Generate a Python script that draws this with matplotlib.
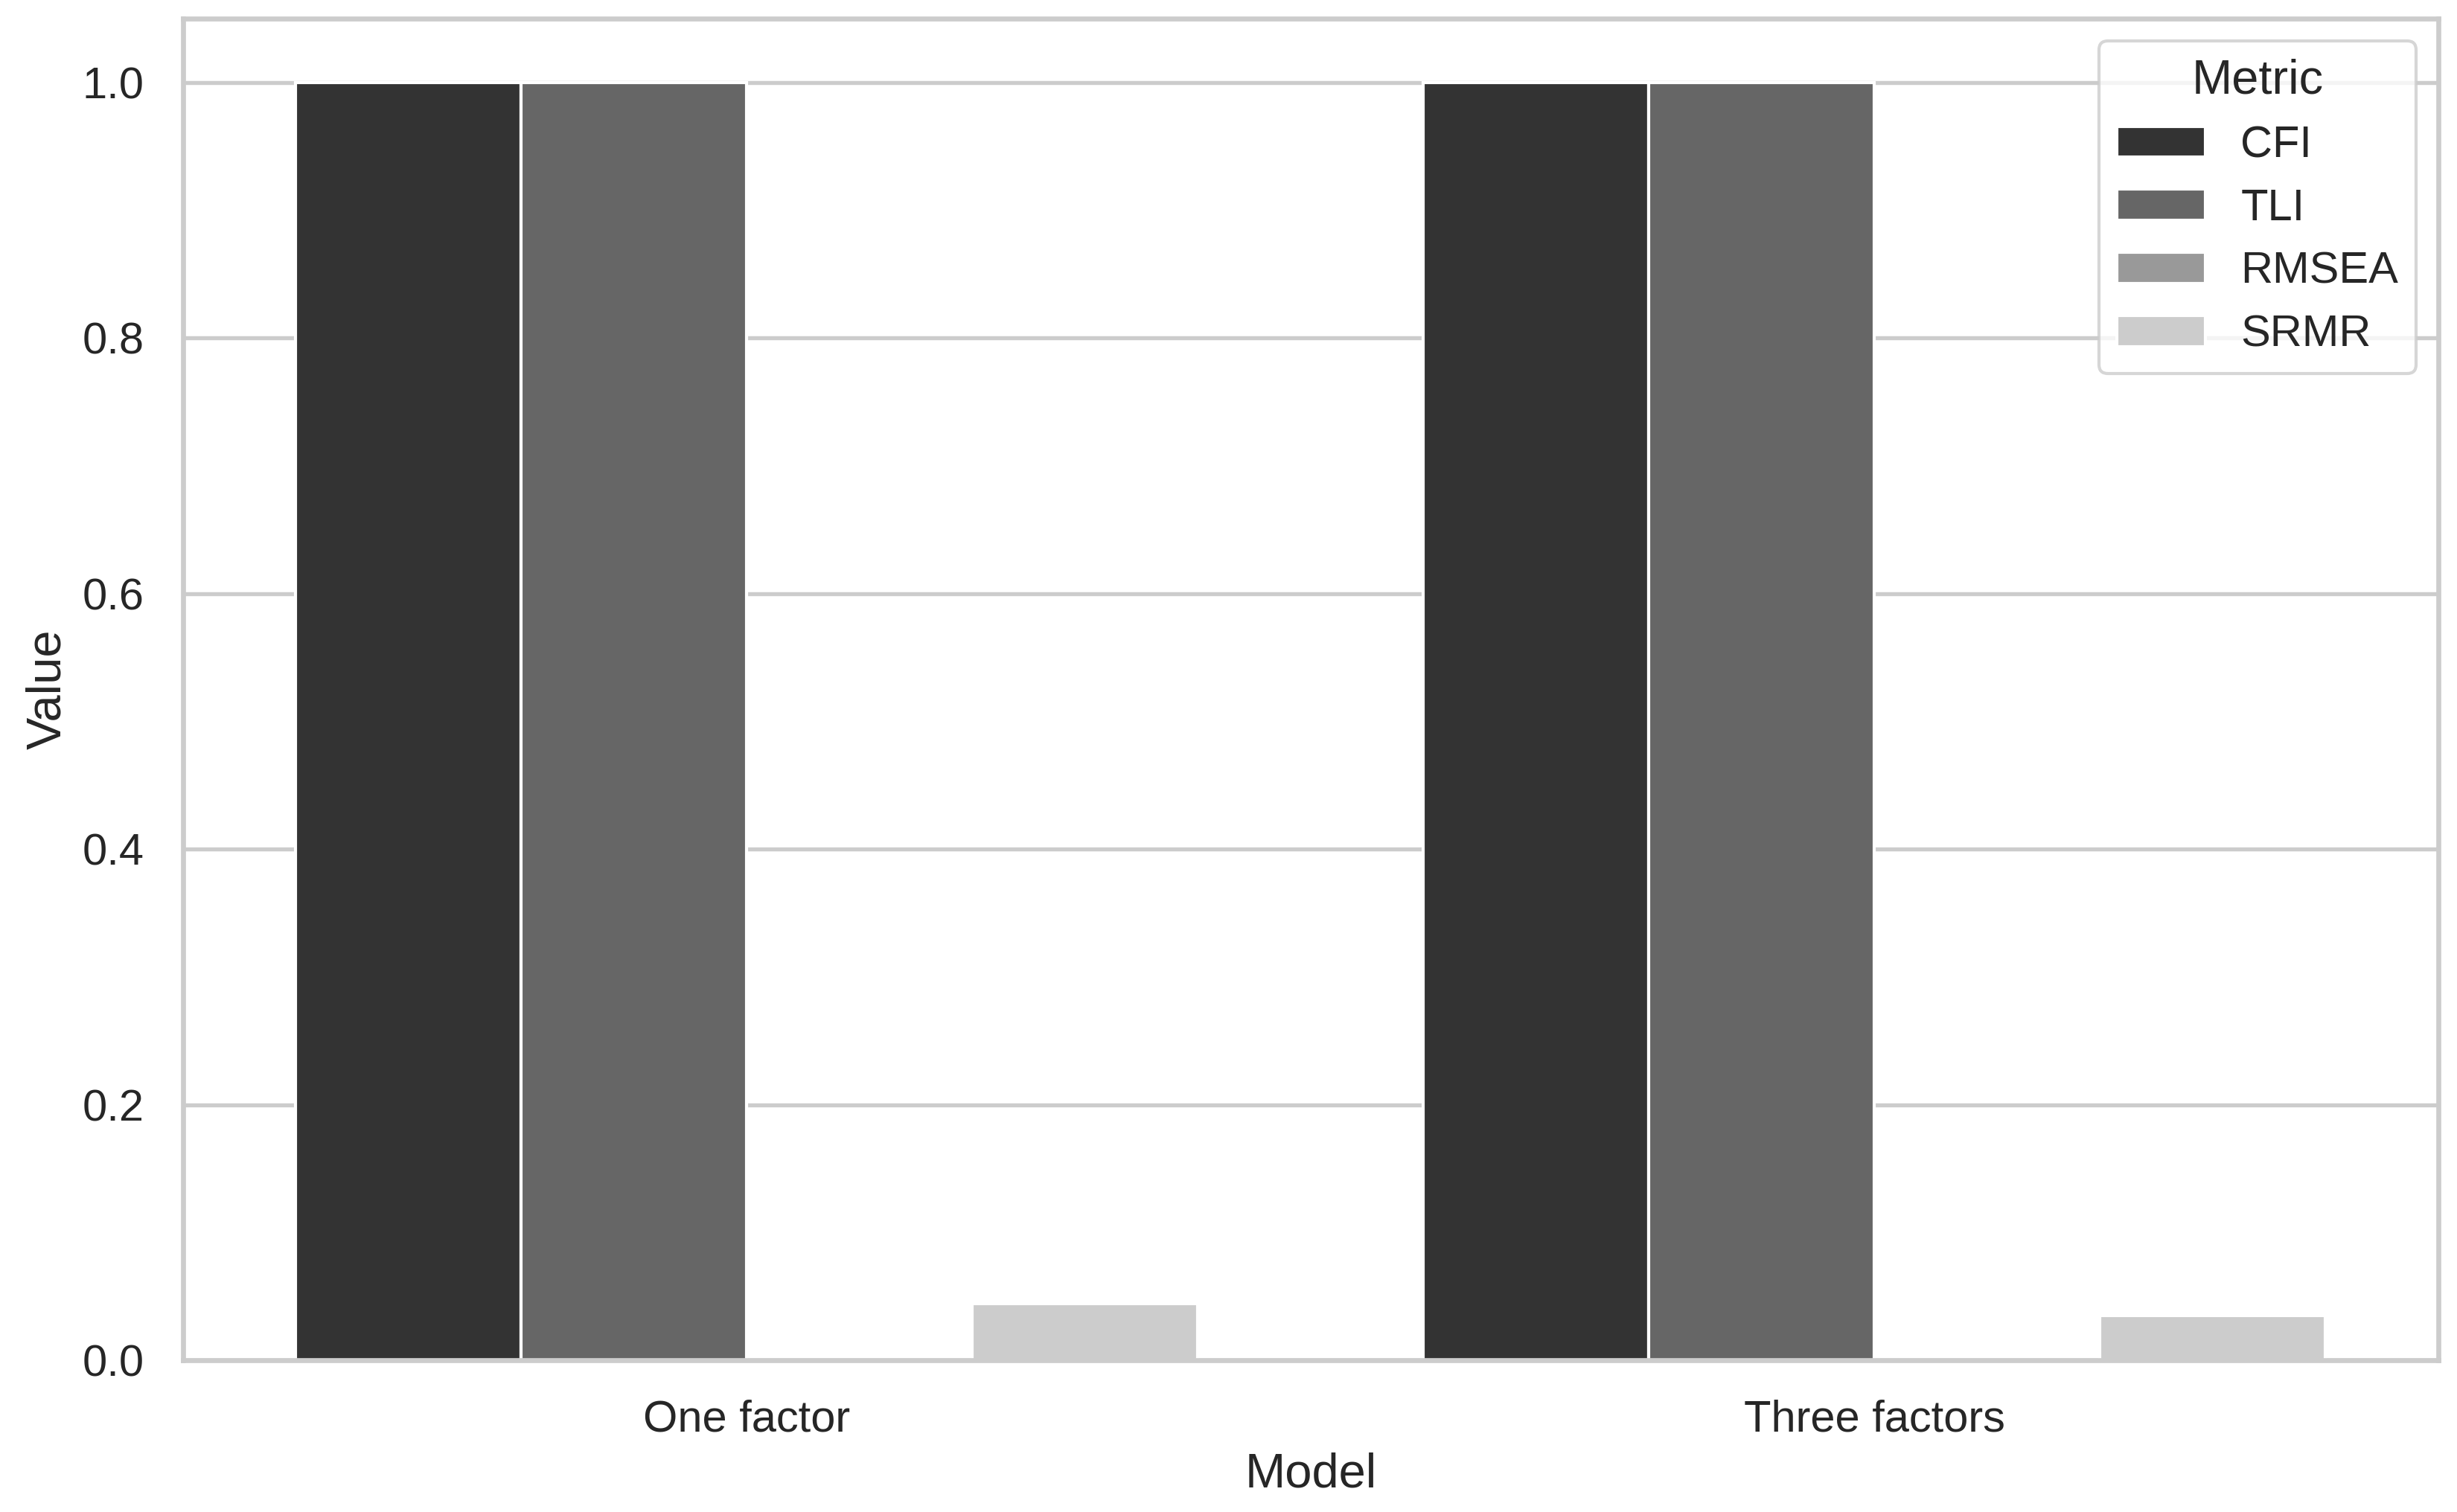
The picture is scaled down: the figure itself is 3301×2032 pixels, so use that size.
import matplotlib
matplotlib.use("Agg")
import matplotlib.pyplot as plt
import seaborn as sns
import pandas as pd

# fit indices per model
models = ["One factor", "Three factors"]
metrics = ["CFI", "TLI", "RMSEA", "SRMR"]
cfi = [1.0, 1.0]
tli = [1.0, 1.0]
rmsea = [0.0, 0.0]
srmr = [0.044, 0.035]

palette = ["#333333", "#666666", "#999999", "#cccccc"]

sns.set_theme(style="whitegrid", context="talk", font_scale=1.3 / 1.5)
plt.rcParams['font.family'] = ['Liberation Sans', 'DejaVu Sans']
plt.rcParams['axes.linewidth'] = 1.6
plt.rcParams['grid.linewidth'] = 1.3
plt.rcParams['patch.linewidth'] = 1.0

rows = []
for i, m in enumerate(models):
    for name, vals in zip(metrics, [cfi, tli, rmsea, srmr]):
        rows.append({"Model": m, "Metric": name, "Value": vals[i]})
df = pd.DataFrame(rows)

fig, ax = plt.subplots(figsize=(3301 / 300, 2032 / 300))
sns.barplot(data=df, x="Model", y="Value", hue="Metric", hue_order=metrics,
            palette=palette, ax=ax)
ax.legend(title="Metric", loc="upper right")
fig.subplots_adjust(left=0.0745, right=0.9924, top=0.9877, bottom=0.1004)
fig.savefig("out.png", dpi=300)
